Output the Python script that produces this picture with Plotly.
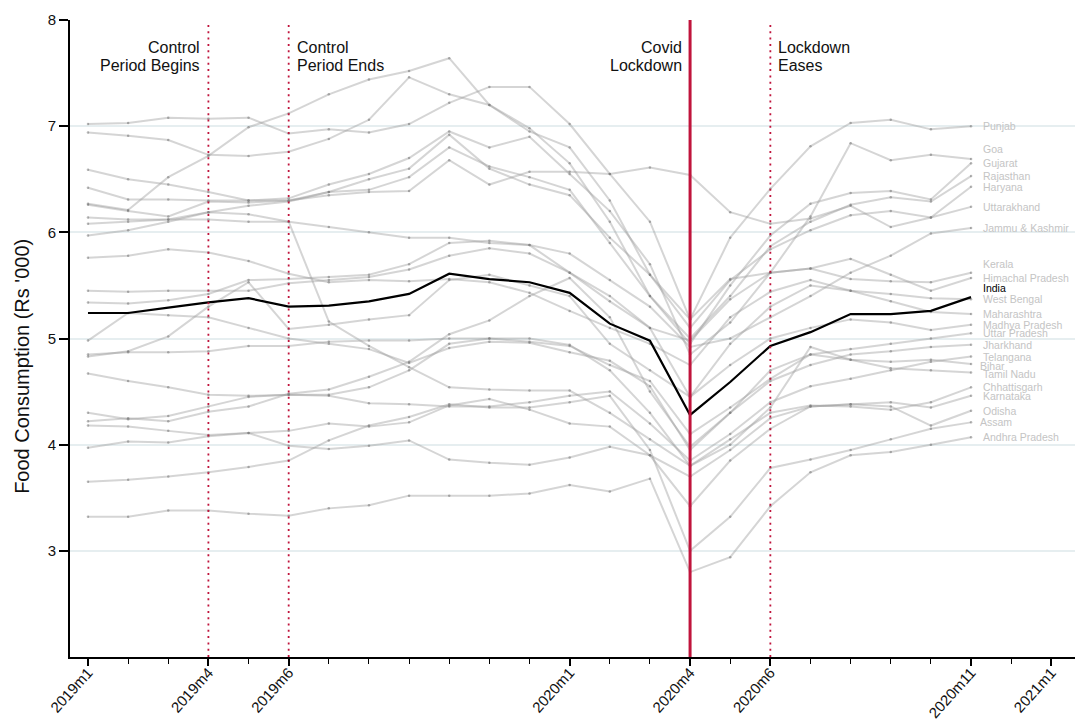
import plotly.graph_objects as go

months = ["2019m1","2019m2","2019m3","2019m4","2019m5","2019m6","2019m7","2019m8","2019m9",
          "2019m10","2019m11","2019m12","2020m1","2020m2","2020m3","2020m4","2020m5","2020m6",
          "2020m7","2020m8","2020m9","2020m10","2020m11"]

punjab      = [7.02,7.03,7.08,7.07,7.08,6.93,6.97,6.94,7.02,7.22,7.37,7.37,7.02,6.55,6.10,5.18,5.95,6.41,6.81,7.03,7.06,6.97,7.00]
goa         = [6.59,6.50,6.45,6.38,6.30,6.32,6.45,6.55,6.70,6.95,6.80,6.90,6.55,6.20,5.70,4.85,5.15,5.62,6.15,6.84,6.68,6.73,6.69]
gujarat     = [6.27,6.21,6.52,6.72,6.99,7.12,7.30,7.44,7.52,7.64,7.20,6.98,6.65,6.10,5.40,4.95,5.50,5.97,6.27,6.37,6.39,6.31,6.65]
rajasthan   = [6.42,6.31,6.31,6.30,6.30,6.30,6.38,6.40,6.52,6.80,6.62,6.52,6.40,5.90,5.40,5.00,5.40,5.87,6.10,6.26,6.33,6.29,6.53]
haryana     = [6.94,6.91,6.87,6.73,6.72,6.76,6.88,7.06,7.46,7.30,7.20,6.95,6.80,6.30,5.60,5.10,5.55,5.84,6.02,6.16,6.20,6.14,6.43]
uttarakhand = [6.26,6.20,6.15,6.29,6.28,6.30,6.35,6.38,6.39,6.68,6.45,6.57,6.57,6.55,6.61,6.54,6.19,6.08,6.13,6.25,6.05,6.14,6.24]
jammu_kashmir = [6.14,6.12,6.12,6.12,6.10,6.10,6.05,6.00,5.95,5.95,5.90,5.88,5.80,5.55,5.30,4.92,5.00,5.20,5.40,5.62,5.78,5.99,6.04]
kerala      = [5.97,6.02,6.10,6.19,6.25,6.29,6.38,6.50,6.60,6.92,6.60,6.45,6.35,5.95,5.60,5.18,5.56,5.62,5.66,5.56,5.54,5.53,5.62]
himachal    = [5.45,5.44,5.45,5.45,5.45,5.52,5.55,5.58,5.65,5.78,5.85,5.80,5.62,5.40,5.10,4.98,5.37,5.62,5.66,5.75,5.60,5.45,5.57]
west_bengal = [5.76,5.78,5.84,5.81,5.73,5.61,5.53,5.55,5.54,5.56,5.53,5.43,5.26,5.10,4.95,4.75,5.20,5.44,5.55,5.45,5.42,5.38,5.37]
maharashtra = [4.83,4.88,5.02,5.30,5.53,5.09,5.13,5.18,5.22,5.55,5.60,5.50,5.40,4.95,4.70,4.45,4.95,5.30,5.50,5.45,5.35,5.25,5.23]
madhya      = [5.34,5.33,5.36,5.42,5.55,5.56,5.58,5.60,5.70,5.90,5.92,5.88,5.62,5.35,5.10,4.45,4.75,5.00,5.10,5.18,5.15,5.08,5.13]
uttar       = [4.85,4.87,4.87,4.88,4.93,4.93,4.97,4.98,4.98,5.00,5.00,4.97,4.93,4.75,4.60,4.10,4.35,4.62,4.85,4.90,4.95,5.00,5.05]
jharkhand   = [4.98,5.24,5.22,5.20,5.10,5.00,4.95,4.90,4.77,4.91,4.97,4.96,4.87,4.79,4.55,3.95,4.30,4.60,4.75,4.85,4.88,4.92,4.94]
telangana   = [4.67,4.60,4.54,4.47,4.46,4.47,4.46,4.39,4.38,4.36,4.36,4.40,4.46,4.50,4.20,3.85,4.10,4.40,4.55,4.62,4.70,4.78,4.83]
bihar       = [4.30,4.24,4.27,4.36,4.45,4.47,4.47,4.54,4.70,4.95,5.00,5.00,4.94,4.70,4.30,3.80,4.00,4.35,4.92,4.80,4.78,4.80,4.76]
tamil_nadu  = [4.22,4.25,4.22,4.31,4.36,4.48,4.52,4.64,4.78,5.04,5.17,5.40,5.57,5.20,4.50,3.98,4.30,4.70,4.85,4.80,4.72,4.70,4.68]
chhattisgarh= [6.08,6.10,6.12,6.19,6.17,6.10,5.16,4.93,4.73,4.54,4.52,4.51,4.51,4.30,4.05,3.80,4.05,4.30,4.37,4.36,4.33,4.40,4.54]
karnataka   = [4.18,4.17,4.13,4.09,4.11,3.99,3.96,3.99,4.04,3.86,3.83,3.81,3.88,3.98,3.90,3.70,3.95,4.25,4.36,4.38,4.40,4.35,4.46]
odisha      = [3.97,4.03,4.02,4.08,4.11,4.13,4.20,4.17,4.21,4.37,4.43,4.33,4.20,4.17,3.90,3.42,3.85,4.15,4.36,4.38,4.36,4.18,4.32]
assam       = [3.65,3.67,3.70,3.74,3.79,3.85,4.04,4.18,4.26,4.38,4.35,4.35,4.40,4.46,3.95,3.00,3.32,3.78,3.86,3.95,4.05,4.15,4.21]
andhra      = [3.32,3.32,3.38,3.38,3.35,3.33,3.40,3.43,3.52,3.52,3.52,3.54,3.62,3.56,3.68,2.80,2.94,3.42,3.74,3.90,3.93,4.00,4.07]
india       = [5.24,5.24,5.29,5.34,5.38,5.30,5.31,5.35,5.42,5.61,5.56,5.53,5.43,5.14,4.98,4.28,4.59,4.93,5.06,5.23,5.23,5.26,5.39]

states = [
    ("Punjab", punjab), ("Goa", goa), ("Gujarat", gujarat), ("Rajasthan", rajasthan),
    ("Haryana", haryana), ("Uttarakhand", uttarakhand), ("Jammu & Kashmir", jammu_kashmir),
    ("Kerala", kerala), ("Himachal Pradesh", himachal), ("West Bengal", west_bengal),
    ("Maharashtra", maharashtra), ("Madhya Pradesh", madhya), ("Uttar Pradesh", uttar),
    ("Jharkhand", jharkhand), ("Telangana", telangana), ("Bihar", bihar),
    ("Tamil Nadu", tamil_nadu), ("Chhattisgarh", chhattisgarh), ("Karnataka", karnataka),
    ("Odisha", odisha), ("Assam", assam), ("Andhra Pradesh", andhra),
]

tick_months = ["2019m1","2019m4","2019m6","2020m1","2020m4","2020m6","2020m11","2021m1"]
events = [("2019m4", ["Control", "Period Begins"], "right", "dot"),
          ("2019m6", ["Control", "Period Ends"], "left", "dot"),
          ("2020m4", ["Covid", "Lockdown"], "right", "solid"),
          ("2020m6", ["Lockdown", "Eases"], "left", "dot")]

# label style offsets (pixels, like marker-label clock positions)
label_yshift = {"Goa": 10, "Kerala": 9, "India": 9, "Tamil Nadu": -2, "Bihar": -2}
label_xshift = {"Bihar": -3, "Assam": -3}


def month_index(m):
    y, mm = m.split("m")
    return (int(y) - 2019) * 12 + int(mm) - 1

x = [month_index(m) for m in months]

FONT = "Liberation Sans, Arial, sans-serif"
RED = "#c0143c"
fig = go.Figure()

for name, vals in states:
    fig.add_trace(go.Scatter(
        x=x, y=vals, mode="lines+markers", name=name, showlegend=False,
        line=dict(color="rgba(150,150,150,0.40)", width=2),
        marker=dict(size=2.5, color="rgba(110,110,110,0.5)"),
        hoverinfo="skip"))

fig.add_trace(go.Scatter(x=x, y=india, mode="lines", name="India", showlegend=False,
                         line=dict(color="black", width=2.2), hoverinfo="skip"))

annotations = []
shapes = []
for m, lines, side, style in events:
    xv = month_index(m)
    if style == "solid":
        shapes.append(dict(type="line", xref="x", yref="paper", x0=xv, x1=xv, y0=0, y1=1,
                           line=dict(color=RED, width=3)))
    else:
        shapes.append(dict(type="line", xref="x", yref="paper", x0=xv, x1=xv, y0=0, y1=0.994,
                           line=dict(color=RED, width=1.8, dash="2px,4.3px")))
    for i, t in enumerate(lines):
        annotations.append(dict(x=xv, y=7.74 - i * 0.165, xref="x", yref="y", text=t,
                                showarrow=False, xanchor=side, yanchor="middle",
                                xshift=-6 if side == "right" else 6,
                                font=dict(family=FONT, size=16, color="#111111")))

last = x[-1]
for name, vals in states:
    annotations.append(dict(x=last, y=vals[-1], xref="x", yref="y", text=name, showarrow=False,
                            xanchor="left", yanchor="middle",
                            xshift=10 + label_xshift.get(name, 0),
                            yshift=label_yshift.get(name, 0),
                            font=dict(family=FONT, size=10.5, color="#c4c4c4")))
annotations.append(dict(x=last, y=india[-1], xref="x", yref="y", text="India", showarrow=False,
                        xanchor="left", yanchor="middle", xshift=10, yshift=label_yshift["India"],
                        font=dict(family=FONT, size=10.5, color="black")))

# y-axis title (placed like the reference, slightly below the axis centre)
annotations.append(dict(x=-0.0478, y=0.457, xref="paper", yref="paper",
                        text="Food Consumption (Rs '000)", textangle=-90, showarrow=False,
                        xanchor="center", yanchor="middle",
                        font=dict(family=FONT, size=20, color="#111111")))

fig.update_layout(
    width=1075, height=727,
    margin=dict(l=70, r=0, t=20, b=70),
    plot_bgcolor="white", paper_bgcolor="white",
    shapes=shapes, annotations=annotations,
    xaxis=dict(range=[-0.448, 24.59], tickvals=[month_index(m) for m in tick_months],
               ticktext=tick_months, tickangle=-48, ticks="outside", ticklen=7, tickwidth=1.5,
               tickcolor="black", showline=True, linecolor="black", linewidth=2,
               showgrid=False, zeroline=False, automargin=False, ticklabelstandoff=-8,
               tickfont=dict(family=FONT, size=15, color="#111111"),
               minor=dict(dtick=1, tick0=0, ticks="outside", ticklen=5, tickwidth=1.2,
                          tickcolor="black", showgrid=False)),
    yaxis=dict(range=[2.0, 8.0], tickvals=[3, 4, 5, 6, 7, 8], ticks="outside", ticklen=9,
               tickwidth=1.5, tickcolor="black", showline=True, linecolor="black", linewidth=2,
               showgrid=True, gridcolor="#e6eef0", gridwidth=2, zeroline=False, automargin=False,
               tickfont=dict(family=FONT, size=15, color="#111111")),
)

fig.write_html("out.html", config={"displayModeBar": False},
               post_script="document.body.style.margin='0';document.body.style.overflow='hidden';")
